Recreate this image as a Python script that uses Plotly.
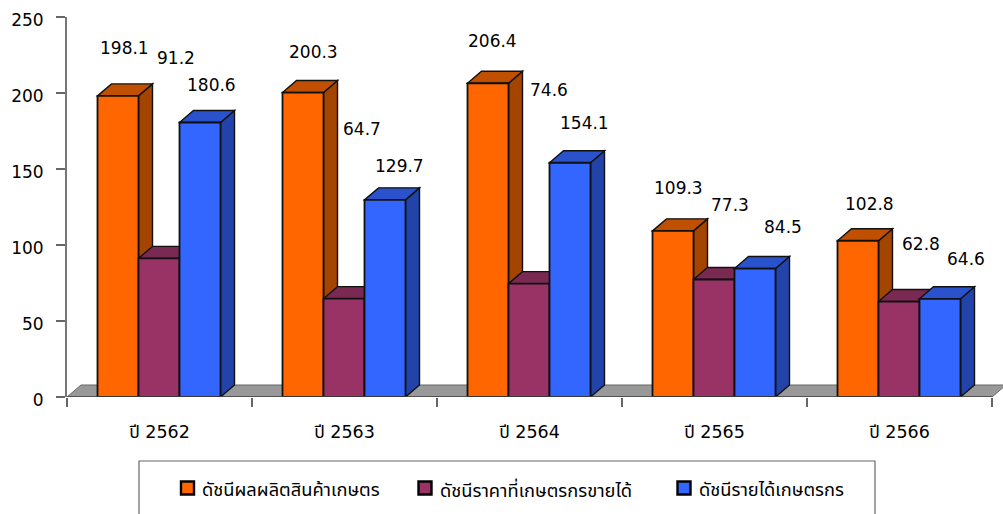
import plotly.graph_objects as go

categories = ["ปี 2562", "ปี 2563", "ปี 2564", "ปี 2565", "ปี 2566"]
series_names = ["ดัชนีผลผลิตสินค้าเกษตร", "ดัชนีราคาที่เกษตรกรขายได้", "ดัชนีรายได้เกษตรกร"]
output_index = [198.1, 200.3, 206.4, 109.3, 102.8]
price_index = [91.2, 64.7, 74.6, 77.3, 62.8]
income_index = [180.6, 129.7, 154.1, 84.5, 64.6]
y_ticks = [0, 50, 100, 150, 200, 250]

# label offsets from the bar's top centre, in pixels
label_dx = [[6.5, 10.5, 4.5, 5.5, 11.5], [16.5, 17.5, 19.5, 15.5, 21.5], [11.5, 14.5, 14.5, 27.5, 25.5]]
label_dy = [[48, 40.5, 42, 43, 37], [200, 170, 194, 74.5, 58], [37.5, 34, 40, 41.6, 40]]

W, H = 1003, 514
L, T, B = 67, 17, 117
GROUP = 185.0
plot_w = W - L
plot_h = H - T - B
x_max = plot_w / GROUP
y_max = 250
bar_w = 41 / GROUP
lead = 30.5 / GROUP
dx = 14 / GROUP
dy = 12 * y_max / plot_h

front = ["#FF6600", "#993366", "#3366FF"]
side = ["#A34400", "#7A2952", "#2244AA"]
top = ["#C05000", "#7A2952", "#2A52CC"]
values = [output_index, price_index, income_index]
FONT = "Tahoma, Verdana, DejaVu Sans, Noto Sans Thai, sans-serif"
EDGE = "#111111"

fig = go.Figure()
shapes = []
annotations = []


def path(points):
    return "M " + " L ".join(f"{a},{b}" for a, b in points) + " Z"


def px_x(p):
    return (p - L) / plot_w


def px_y(p):
    return (H - B - p) / plot_h


shapes.append(dict(type="path", layer="below", xref="x", yref="y",
                   path=path([(0, 0), (dx, dy), (5 + dx, dy), (5, 0)]),
                   fillcolor="#999999", line=dict(color="#666666", width=1)))

for s, vals in enumerate(values):
    xs = [i + lead + bar_w * (s + 0.5) for i in range(len(vals))]
    fig.add_trace(go.Bar(
        x=xs, y=vals, width=bar_w, name=series_names[s], showlegend=False,
        marker=dict(color=front[s], line=dict(color=EDGE, width=1.8)),
    ))
    for i, v in enumerate(vals):
        x0 = xs[i] - bar_w / 2
        x1 = xs[i] + bar_w / 2
        shapes.append(dict(type="path", layer="below", xref="x", yref="y",
                           path=path([(x1, 0), (x1 + dx, dy), (x1 + dx, v + dy), (x1, v)]),
                           fillcolor=side[s], line=dict(color=EDGE, width=1.4)))
        shapes.append(dict(type="path", layer="below", xref="x", yref="y",
                           path=path([(x0, v), (x0 + dx, v + dy), (x1 + dx, v + dy), (x1, v)]),
                           fillcolor=top[s], line=dict(color=EDGE, width=1.4)))
        annotations.append(dict(x=xs[i], y=v, xref="x", yref="y", text=f"{v:.1f}",
                                showarrow=False, xshift=label_dx[s][i], yshift=label_dy[s][i],
                                font=dict(size=17, color="#000000", family=FONT)))

# baseline of the category axis
shapes.append(dict(type="line", xref="x", yref="y", x0=0, x1=5, y0=0, y1=0,
                   line=dict(color="#444444", width=1.5)))
# legend frame, cut by the lower edge of the picture
shapes.append(dict(type="rect", xref="paper", yref="paper",
                   x0=px_x(139), x1=px_x(875), y0=px_y(530), y1=px_y(461),
                   line=dict(color="#666666", width=1.2), fillcolor="rgba(0,0,0,0)"))
# legend entries
swatch_left = [180, 417.5, 676.5]
for s, name in enumerate(series_names):
    shapes.append(dict(type="rect", xref="paper", yref="paper",
                       x0=px_x(swatch_left[s] + 1), x1=px_x(swatch_left[s] + 14),
                       y0=px_y(494.5), y1=px_y(481.5),
                       fillcolor=front[s], line=dict(color="#000000", width=2.4)))
    annotations.append(dict(x=px_x(swatch_left[s] + 20), y=px_y(489), xref="paper", yref="paper",
                            xanchor="left", yanchor="middle", text=name, showarrow=False,
                            font=dict(size=18.3, color="#000000", family=FONT)))

fig.update_layout(
    width=W, height=H,
    margin=dict(l=L, r=0, t=T, b=B, pad=0),
    barmode="overlay", showlegend=False,
    plot_bgcolor="white", paper_bgcolor="white",
    font=dict(family=FONT, size=17, color="#000000"),
    shapes=shapes, annotations=annotations,
    xaxis=dict(range=[0, x_max], tickmode="array", tickvals=[i + 0.5 for i in range(5)],
               ticktext=categories, ticks="outside", ticklen=19, tickcolor="rgba(0,0,0,0)",
               tickfont=dict(size=17.5),
               showgrid=False, zeroline=False, showline=False,
               minor=dict(tickmode="array", tickvals=list(range(6)), ticks="outside",
                          ticklen=9, tickcolor="#666666", tickwidth=1.5, showgrid=False)),
    yaxis=dict(range=[0, y_max], tickmode="array", tickvals=y_ticks, ticks="outside",
               ticklen=9, tickcolor="#666666", tickwidth=1.5, showgrid=False, zeroline=False,
               showline=True, linecolor="#777777", linewidth=2,
               ticklabelstandoff=9, ticklabelshift=3),
)

fig.write_html("out.html", config=dict(displayModeBar=False),
               post_script="document.body.style.margin='0';")
